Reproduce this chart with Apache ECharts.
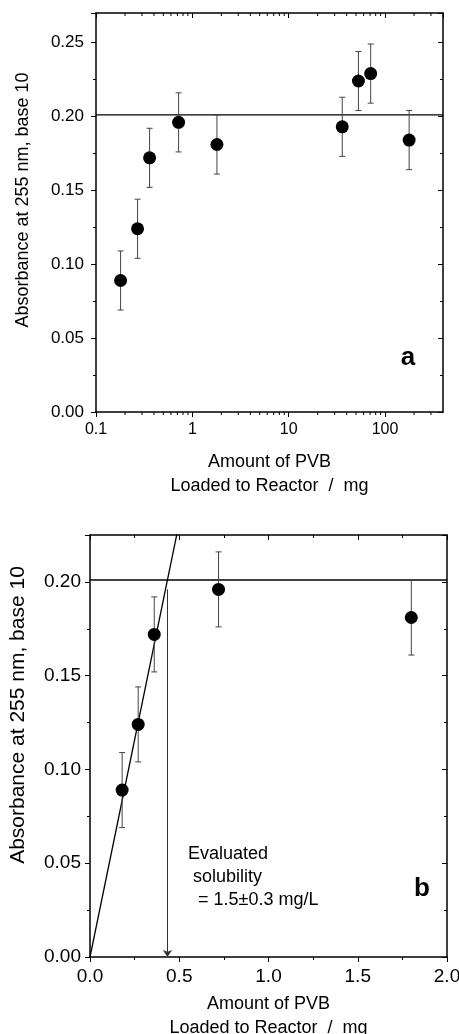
<!DOCTYPE html>
<html>
<head>
<meta charset="utf-8">
<script src="https://cdn.jsdelivr.net/npm/echarts@6/dist/echarts.min.js"></script>
<style>
html,body{margin:0;padding:0;background:#fff;}
#chart{width:459px;height:1034px;}
</style>
</head>
<body>
<div id="chart"></div>
<script>
// ---- Panel a (log x) ----
const amountA = [0.18, 0.27, 0.36, 0.72, 1.8, 36, 53, 71, 178];
const absA    = [0.089, 0.124, 0.172, 0.196, 0.181, 0.193, 0.224, 0.229, 0.184];
const errA    = [0.020, 0.020, 0.020, 0.020, 0.020, 0.020, 0.020, 0.020, 0.020];
// ---- Panel b (linear x) ----
const amountB = [0.18, 0.27, 0.36, 0.72, 1.8];
const absB    = [0.089, 0.124, 0.172, 0.196, 0.181];
const errB    = [0.020, 0.020, 0.020, 0.020, 0.020];
// saturation level and linear fit
const plateau = 0.201;
const fitLineX = [0, 0.6];
const fitLineY = [0, 0.278];
const solubilityX = 0.434;
const arrowTopY = 0.196;
// minor tick values for the log axis
const logMinorTicks = [0.2,0.3,0.4,0.5,0.6,0.7,0.8,0.9,2,3,4,5,6,7,8,9,20,30,40,50,60,70,80,90,200,300];
const logMajorLabels = [0.1, 1, 10, 100];

const FONT = "'Liberation Sans', Arial, sans-serif";
const chart = echarts.init(document.getElementById('chart'));

function errItem(params, api) {
  const x = api.value(0), lo = api.value(1), hi = api.value(2);
  const p1 = api.coord([x, lo]), p2 = api.coord([x, hi]);
  const w = 3;
  const st = {stroke: '#444', lineWidth: 1};
  return {type: 'group', children: [
    {type: 'line', shape: {x1: p1[0], y1: p1[1], x2: p2[0], y2: p2[1]}, style: st},
    {type: 'line', shape: {x1: p1[0]-w, y1: p1[1], x2: p1[0]+w, y2: p1[1]}, style: st},
    {type: 'line', shape: {x1: p2[0]-w, y1: p2[1], x2: p2[0]+w, y2: p2[1]}, style: st}
  ]};
}
function minorLogItem(params, api) {
  const v = api.value(0);
  const b = api.coord([v, 0]);
  const t = api.coord([v, 0.27]);
  const st = {stroke: '#000', lineWidth: 1};
  return {type: 'group', children: [
    {type: 'line', shape: {x1: b[0], y1: b[1], x2: b[0], y2: b[1] + 3}, style: st},
    {type: 'line', shape: {x1: t[0], y1: t[1], x2: t[0], y2: t[1] + 3}, style: st}
  ]};
}

const axLine = {show: true, onZero: false, lineStyle: {color: '#000', width: 1.5}};

function xAxisPair(grid, opts, labelOpts, fontSize, nameGap, margin) {
  const base = Object.assign({gridIndex: grid, splitLine: {show: false}, axisLine: axLine}, opts);
  return [
    Object.assign({}, base, {
      position: 'bottom',
      axisTick: {show: true, inside: false, length: 5, lineStyle: {color: '#000', width: 1}},
      minorTick: opts.type === 'log' ? {show: false} : {show: true, splitNumber: 2, length: 3, lineStyle: {color: '#000'}},
      axisLabel: Object.assign({color: '#000', fontSize: fontSize, fontFamily: FONT, margin: margin}, labelOpts),
      name: 'Amount of PVB\nLoaded to Reactor  /  mg',
      nameLocation: 'middle', nameGap: nameGap,
      nameTextStyle: {color: '#000', fontSize: 18, fontFamily: FONT, lineHeight: 24, verticalAlign: 'top'}
    }),
    Object.assign({}, base, {
      position: 'top',
      axisTick: {show: true, inside: true, length: 5, lineStyle: {color: '#000', width: 1}},
      minorTick: opts.type === 'log' ? {show: false} : {show: true, splitNumber: 2, length: 3, lineStyle: {color: '#000'}},
      axisLabel: {show: false}
    })
  ];
}
function yAxisPair(grid, opts, fontSize, margin) {
  const base = Object.assign({gridIndex: grid, type: 'value', splitLine: {show: false}, axisLine: axLine}, opts);
  return [
    Object.assign({}, base, {
      position: 'left',
      axisTick: {show: true, inside: false, length: 5, lineStyle: {color: '#000', width: 1}},
      minorTick: {show: true, splitNumber: 2, length: 3, lineStyle: {color: '#000'}},
      axisLabel: {color: '#000', fontSize: fontSize, fontFamily: FONT, margin: margin, showMaxLabel: false,
        formatter: v => v.toFixed(2)}
    }),
    Object.assign({}, base, {
      position: 'right',
      axisTick: {show: true, inside: true, length: 5, lineStyle: {color: '#000', width: 1}},
      minorTick: {show: true, splitNumber: 2, length: 3, lineStyle: {color: '#000'}},
      axisLabel: {show: false}
    })
  ];
}

const xAxes = [].concat(
  xAxisPair(0, {type: 'log', logBase: 10, min: 0.1, max: 400},
    {showMaxLabel: false, formatter: v => (logMajorLabels.some(m => Math.abs(m - v) / m < 1e-6) ? String(+v.toPrecision(3)) : '')}, 16, 38, 10),
  xAxisPair(1, {type: 'value', min: 0, max: 2, interval: 0.5},
    {formatter: v => v.toFixed(1)}, 19, 35, 10)
);
const yAxes = [].concat(
  yAxisPair(0, {min: 0, max: 0.27, interval: 0.05}, 17, 12),
  yAxisPair(1, {min: 0, max: 0.225, interval: 0.05}, 19, 9)
);

const ptsA = amountA.map((x, i) => [x, absA[i]]);
const ebA = amountA.map((x, i) => [x, absA[i] - errA[i], absA[i] + errA[i]]);
const ptsB = amountB.map((x, i) => [x, absB[i]]);
const ebB = amountB.map((x, i) => [x, absB[i] - errB[i], absB[i] + errB[i]]);

const option = {
  animation: false,
  backgroundColor: '#fff',
  grid: [
    {left: 96, top: 13, width: 347, height: 399, containLabel: false, outerBoundsMode: 'none'},
    {left: 90, top: 535, width: 357, height: 422, containLabel: false, outerBoundsMode: 'none'}
  ],
  xAxis: xAxes,
  yAxis: yAxes,
  series: [
    {type: 'custom', xAxisIndex: 0, yAxisIndex: 0, renderItem: minorLogItem, data: logMinorTicks.map(v => [v, 0]), silent: true, z: 1},
    {type: 'line', xAxisIndex: 0, yAxisIndex: 0, data: [[0.1, plateau], [400, plateau]], symbol: 'none',
      lineStyle: {color: '#000', width: 1.3}, silent: true, z: 2},
    {type: 'custom', xAxisIndex: 0, yAxisIndex: 0, renderItem: errItem, encode: {x: 0, y: [1, 2]}, data: ebA, silent: true, z: 3},
    {type: 'scatter', xAxisIndex: 0, yAxisIndex: 0, data: ptsA, symbol: 'circle', symbolSize: 13,
      itemStyle: {color: '#000', opacity: 1}, silent: true, z: 4},

    {type: 'line', xAxisIndex: 2, yAxisIndex: 2, data: [[0, plateau], [2, plateau]], symbol: 'none',
      lineStyle: {color: '#000', width: 1.3}, silent: true, z: 2},
    {type: 'line', xAxisIndex: 2, yAxisIndex: 2, data: fitLineX.map((x, i) => [x, fitLineY[i]]), symbol: 'none', clip: true,
      lineStyle: {color: '#000', width: 1.3}, silent: true, z: 2,
      markLine: {silent: true, symbol: ['none', 'arrow'], symbolSize: 7, label: {show: false},
        lineStyle: {color: '#333', width: 1, type: 'solid'},
        data: [[{coord: [solubilityX, arrowTopY]}, {coord: [solubilityX, 0]}]]}},
    {type: 'custom', xAxisIndex: 2, yAxisIndex: 2, renderItem: errItem, encode: {x: 0, y: [1, 2]}, data: ebB, silent: true, z: 3},
    {type: 'scatter', xAxisIndex: 2, yAxisIndex: 2, data: ptsB, symbol: 'circle', symbolSize: 13,
      itemStyle: {color: '#000', opacity: 1}, silent: true, z: 4}
  ],
  graphic: [
    {type: 'text', x: 23, y: 200, rotation: Math.PI / 2,
      style: {text: 'Absorbance at 255 nm, base 10', fill: '#000', font: '18px ' + FONT, align: 'center', verticalAlign: 'middle'}},
    {type: 'text', x: 18, y: 715, rotation: Math.PI / 2,
      style: {text: 'Absorbance at 255 nm, base 10', fill: '#000', font: '21px ' + FONT, align: 'center', verticalAlign: 'middle'}},
    {type: 'text', x: 408, y: 358,
      style: {text: 'a', fill: '#000', font: 'bold 26px ' + FONT, align: 'center', verticalAlign: 'middle'}},
    {type: 'text', x: 422, y: 889,
      style: {text: 'b', fill: '#000', font: 'bold 26px ' + FONT, align: 'center', verticalAlign: 'middle'}},
    {type: 'text', x: 188, y: 843,
      style: {text: 'Evaluated\n solubility\n  = 1.5\u00b10.3 mg/L', fill: '#000', font: '18px ' + FONT, lineHeight: 23, align: 'left', verticalAlign: 'top'}}
  ]
};
chart.setOption(option);
</script>
</body>
</html>
